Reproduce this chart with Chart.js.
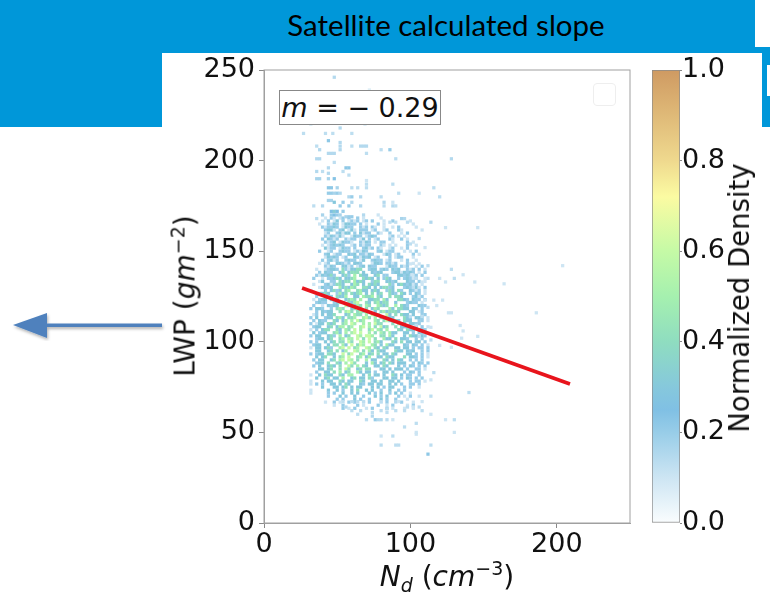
<!DOCTYPE html>
<html>
<head>
<meta charset="utf-8">
<title>Satellite calculated slope</title>
<script src="https://cdn.jsdelivr.net/npm/chart.js@4/dist/chart.umd.min.js"></script>
<style>
  body { margin: 0; width: 770px; height: 606px; overflow: hidden; background: #fff; position: relative; font-family: "DejaVu Sans", sans-serif; color: #111; }
  .blue { position: absolute; background: #0097d9; }
  canvas { position: absolute; left: 0; top: 0; }
  .label { position: absolute; font-size: 28px; white-space: nowrap; transform: translate(-50%, -50%); }
  .turned { transform: translate(-50%, -50%) rotate(-90deg); }
  .label sup, .label sub { font-size: 19px; line-height: 0; }
  #slopeBox { position: absolute; left: 279px; top: 90px; width: 160px; height: 33px; border: 1px solid #888; background: #fff; font-size: 27px; line-height: 33px; text-align: center; white-space: nowrap; }
  #emptyLegend { position: absolute; left: 593px; top: 83px; width: 21px; height: 21px; border: 1px solid #eee; border-radius: 4px; }
  #slideTitle { position: absolute; left: 446px; top: 24px; transform: translate(-50%, -50%); font: 29.5px Lato, sans-serif; color: #000; white-space: nowrap; }
  #arrow { position: absolute; left: 0; top: 300px; }
</style>
</head>
<body>
<div class="blue" style="left:0;top:0;width:755px;height:53px"></div>
<div class="blue" style="left:0;top:53px;width:162px;height:74px"></div>
<div class="blue" style="left:755px;top:47px;width:15px;height:6px"></div>
<div class="blue" style="left:762px;top:53px;width:8px;height:74px"></div>
<div style="position:absolute;left:767px;top:65px;width:3px;height:31px;background:#fff"></div>
<div id="slideTitle">Satellite calculated slope</div>

<canvas id="mainChart" width="770" height="606"></canvas>
<canvas id="barChart" width="770" height="606"></canvas>

<div id="slopeBox"><i>m</i> = − 0.29</div>
<div id="emptyLegend"></div>
<div class="label" style="left:447px;top:576px"><i>N<sub>d</sub></i> (<i>cm</i><sup>−3</sup>)</div>
<div class="label turned" style="left:185px;top:296px">LWP (<i>gm</i><sup>−2</sup>)</div>
<div class="label turned" style="left:739px;top:298px;font-size:27.5px">Normalized Density</div>

<svg id="arrow" width="170" height="50">
  <defs><filter id="soft"><feDropShadow dx="1" dy="2" stdDeviation="1.5" flood-opacity="0.3"/></filter></defs>
  <g filter="url(#soft)" fill="#4f81bd">
    <rect x="44" y="23.5" width="118" height="3.5"/>
    <polygon points="13,25 47,13 47,38"/>
  </g>
</svg>

<script>
const ndBins = [26,28,30,32,34,36,38,40,42,44,46,48,50,52,54,56,58,60,62,64,66,68,70,72,74,76,78,80,82,84,86,88,90,92,94,96,98,100,102,104,106,108,110,112];

const lwpBins = [168.3,166.7,165,163.3,161.7,160,158.3,156.7,155,153.3,151.7,150,148.3,146.7,145,143.3,141.7,140,138.3,136.7,135,133.3,131.7,130,128.3,126.7,125,123.3,121.7,120,118.3,116.7,115,113.3,111.7,110,108.3,106.7,105,103.3,101.7,100,98.3,96.7,95,93.3,91.7,90,88.3,86.7,85,83.3,81.7,80,78.3,76.7,75,73.3,71.7,70,68.3,66.7,65,63.3];

// one string per LWP bin, one character per Nd bin, digit = density in tenths
const densityRows = [
  "........1.21.12.2..2.1.....1................",
  ".......1.2.13.2.1212.12.2...1..2.....1......",
  "......1..2132.13322.2.1...2.1.........1.....",
  ".......212232.1322..212.21..1..1.2.....1....",
  "........2331.23.131.222.12..12...21......1..",
  "........12..23133.2.3122..21..2...1.2.......",
  "........2132131..1322.1232....12.1.1........",
  ".......2.3212..2122.13.2.12...21..2.1.......",
  "........2123.13221..2132.1.22..1....2.1.....",
  ".......1.123232..12.2122...21.1.1...2..1....",
  "........3122.1322.2..2312.21..12..1.2.......",
  "......2..12..2322.12132...23.122...1.1.2....",
  "........23.122..323.22132...132.12....2.1...",
  "........13232.12..321323.12...2.122...1.....",
  ".......2.2312..2322.13..2322.12...1.2..1....",
  "......1.12..33212.332...1332.2212...2.1.....",
  "........2132..3312.123.322...1322.212..1.2..",
  ".....1..12332.4213344..233.232.323..212.2.1.",
  "......2.322..34.3444.3..3233...23313232.1.2.",
  ".....2132342..342.5.433..34.22...3323212.2..",
  "....2..1.22343.3345..4343.3.243..2.23212..1.",
  "......13..22.4344.5343..244..3323...322.2.1.",
  "....1...2312443..354.3.4343...42.3432312.1..",
  "......13223..534354..443.3.34423...232.31.2.",
  "...1....2.3423.45..4533.343..243.42..3212.1.",
  "......2343..2534.4345.3.4.34..432.43.2.32.1.",
  ".....2..322.4335..33.5445.43..4.443...2312..",
  "....1.233.353..3454.5..3344.53...4432.322.2.",
  ".....2322..2354.4356..43.45344..3...2322.1..",
  "....2..1.3233..63.354.54..5434..5.432...322.",
  "...2.332..2.454..3465.4.354...53.4433.32.2..",
  ".....2.3233..4.564.4546..3.4534443...33.12..",
  "....12.3.334...34.544.5.654..63.4.433.3..22.",
  "...2.3..233.453.445..564.5.4.533...432.332.1",
  "....2.322..43.35.5.645...54.463.43.433..22.1",
  "...2.133.434..45.65..5.5.644...4.533.3322...",
  "....233..34.355.45..56.5.4.634..4.333..2.2.1",
  "...1.2.344..43.54.6.5..46.54.5...43.433.222.",
  "....3.233..453.5.56.6..5.4.54.533..33.2.32..",
  "...2.33..342.5.34..65.665..44.53...3.433.32.",
  ".....233.34..45.55.6.4.6.4..533.4.332..2.2..",
  "...2.2..3.34.44.64..65.6.453...43.4.33.33.2.",
  "....233..3.44.53.6.465..54.3.533...32.32.2.1",
  "...1.33.342..56.6.45..65.43.43..33.33.2.22.2",
  ".....33..34.4.35..65.4.53.433...433.323..2.2",
  "...2.233.443..6.46..45.34.4.33.43...33.2.2.1",
  ".....3.34..3.45.6..45.35..33.433...4.332.2.1",
  "....2.33..34.56.65.4..5.33..43.3.43..2.2.2..",
  ".....233.4..43.5.64...3.53.34.43.333..2.32.2",
  "....2.3..343.4..64.5.43..33.43...3.2.32.2.2.",
  "......33.34..4.64..34.44...33.3.333.2..22.1.",
  ".....2..33.4.5.34..53.33.2..33.3...2.32.2...",
  "...1..3.433..43.55...3.4.33.3..43.3.22..2...",
  ".....3..34.33.5..34.33.42...33.33.2.32.2.2..",
  "...1...3.33..43.33..43..33.3..33.3...2.22.1.",
  "...1.2.2..33.3.43...32.33.33..3.3.2..22.2...",
  ".......3...33.34.3.33...3.3.2.33...2.2..1...",
  "...1.....3..3.2..3.4..3.3..2..3..2.2........",
  "...1.....2.2..3..3.3...3.2.3..2.3.2..1......",
  ".........2...3.2..3..2...3.2.3...2.1.2..1...",
  "............2.2...3.2..2...3.2..2...1.......",
  "........1..2.1..2.2..1.2...1.2..1.2...1.....",
  "...........1..2....2.1....2..1.2....1.2.....",
  "..............2.1.2...1.2....2.1...1..1.....",
];

// isolated cells outside the main blob, Nd, LWP and density in the same order
const sparseNd = [48,72,27,32,42,47,52,52,60,69,44,36,38,52,52,52,60,66,68,70,80,86,70,36,38,44,46,48,90,128,48,36,40,44,44,58,56,54,58,36,38,44,48,70,70,88,44,46,50,60,64,70,44,46,48,50,52,92,106,116,120,80,58,60,66,44,46,48,54,60,82,88,34,40,52,58,66,82,88,90,46,48,50,54,78,40,46,48,50,52,56,58,60,68,94,96,36,86,90,114,124,98,146,106,100,110,100,106,112,128,136,101,104,108,112,120,124,130,144,102,110,116,122,112,118,126,128,108,100,134,136,104,114,114,135,146,106,120,128,140,116,114,124,130,130,114,104,104,104,96,112,114,90,92,80,80,88,70,76,78,80,84,88,56,60,66,64,74,74,84,84,80,90,96,98,102,106,108,54,60,64,68,80,90,92,114,108,164,186,204];
const sparseLwp = [246,239,215,220,215,215,218,221,215,220,211,208,206,210,208,206,208,208,208,208,206,206,204,201,201,204,204,204,201,201,199,194,194,196,193,196,196,194,192,190,190,190,190,189,187,187,185,185,185,185,185,185,182,182,182,182,182,182,182,185,180,180,180,180,180,178,178,177,177,177,177,177,175,175,175,175,175,175,175,175,172,172,172,172,170,170,170,170,170,170,169,169,169,170,168,168,168,166,166,166,163,166,163,157,154,152,143,143,142,140,137,137,135,133,135,135,133,135,133,130,123,123,123,119,120,116,116,114,114,109,106,109,108,101,102,103,103,98,97,72,83,79,57,57,50,60,55,50,49,53,38,43,43,43,43,48,48,57,57,57,57,57,57,64,62,62,60,61,59,63,61,62,62,62,64,64,64,62,67,67,67,67,67,67,67,70,67,132,116,142];
const sparseDensity = [0.15,0.06,0.13,0.06,0.13,0.13,0.15,0.1,0.13,0.06,0.22,0.13,0.15,0.15,0.15,0.15,0.13,0.15,0.15,0.15,0.13,0.2,0.13,0.15,0.15,0.15,0.15,0.15,0.13,0.15,0.13,0.15,0.13,0.15,0.15,0.22,0.22,0.13,0.13,0.17,0.17,0.17,0.24,0.1,0.13,0.13,0.22,0.22,0.17,0.13,0.13,0.13,0.2,0.2,0.17,0.2,0.15,0.13,0.1,0.13,0.13,0.13,0.15,0.2,0.15,0.17,0.17,0.3,0.2,0.15,0.15,0.1,0.13,0.15,0.2,0.2,0.15,0.13,0.15,0.13,0.25,0.32,0.25,0.2,0.1,0.17,0.2,0.25,0.2,0.17,0.17,0.2,0.2,0.15,0.17,0.15,0.13,0.13,0.13,0.15,0.1,0.13,0.1,0.13,0.13,0.1,0.1,0.1,0.13,0.13,0.1,0.1,0.13,0.1,0.13,0.1,0.1,0.13,0.1,0.13,0.1,0.1,0.1,0.13,0.1,0.1,0.1,0.13,0.13,0.1,0.1,0.13,0.1,0.13,0.1,0.1,0.13,0.1,0.1,0.13,0.13,0.1,0.1,0.13,0.1,0.1,0.13,0.1,0.1,0.13,0.22,0.13,0.13,0.13,0.13,0.1,0.13,0.13,0.2,0.15,0.15,0.13,0.1,0.15,0.13,0.13,0.13,0.13,0.15,0.13,0.13,0.13,0.13,0.13,0.13,0.1,0.13,0.13,0.13,0.13,0.13,0.13,0.13,0.15,0.1,0.13,0.1,0.1,0.1,0.1,0.1];

const fitNd = [26, 209];
const fitLwp = [129.7, 76.7];

const xTicks = [0, 100, 200];
const yTicks = [0, 50, 100, 150, 200, 250];
const barTicks = [0, 0.2, 0.4, 0.6, 0.8, 1];

// colormap stops
const barStops = [0, 0.1, 0.2, 0.25, 0.3, 0.4, 0.5, 0.6, 0.72, 0.8, 1];
const barColors = [
  [250,253,254], [205,229,243], [152,205,232], [128,192,228], [134,200,220],
  [143,221,192], [165,240,175], [197,250,166], [251,251,162], [239,217,142], [207,154,98],
];

function densityColor(d) {
  let i = 0;
  while (i < barStops.length - 2 && d > barStops[i + 1]) i++;
  const t = (d - barStops[i]) / (barStops[i + 1] - barStops[i]);
  const c = barColors[i].map((v, k) => Math.round(v + (barColors[i + 1][k] - v) * t));
  return `rgb(${c.join(",")})`;
}

const cells = [];
densityRows.forEach((row, r) => {
  [...row].forEach((ch, c) => {
    if (ch !== ".") cells.push({ x: ndBins[c], y: lwpBins[r], d: Number(ch) / 10 });
  });
});
sparseNd.forEach((nd, i) => {
  cells.push({ x: nd, y: sparseLwp[i], d: sparseDensity[i] });
});

const tickFont = { family: "'DejaVu Sans'", size: 27 };
const tickText = "#111";

const axesFrame = {
  id: "axesFrame",
  beforeDatasetsDraw(chart) {
    const { ctx, chartArea: a } = chart;
    ctx.save();
    ctx.strokeStyle = "#a0a0a0";
    ctx.lineWidth = 1;
    ctx.strokeRect(a.left, a.top, a.right - a.left, a.bottom - a.top);
    ctx.restore();
  },
};

new Chart(document.getElementById("mainChart"), {
  type: "scatter",
  data: {
    datasets: [
      {
        type: "line",
        data: fitNd.map((nd, i) => ({ x: nd, y: fitLwp[i] })),
        borderColor: "#e8141c",
        borderWidth: 3.8,
        pointRadius: 0,
        order: 0,
      },
      {
        data: cells,
        pointStyle: "rect",
        pointRadius: 2.3,
        borderWidth: 0,
        backgroundColor: ctx => densityColor(ctx.raw.d),
        order: 1,
      },
    ],
  },
  options: {
    responsive: false,
    animation: false,
    layout: { padding: { top: 70, right: 140 } },
    plugins: { legend: { display: false }, tooltip: { enabled: false } },
    scales: {
      x: {
        type: "linear",
        min: 0,
        max: 250,
        afterFit: s => { s.height = 83; },
        afterBuildTicks: s => { s.ticks = xTicks.map(v => ({ value: v })); },
        grid: { drawOnChartArea: false, tickLength: 5, color: "#888" },
        border: { color: "#a0a0a0" },
        ticks: { font: tickFont, color: tickText, padding: 1, maxRotation: 0 },
      },
      y: {
        min: 0,
        max: 250,
        afterFit: s => { s.width = 264; },
        afterBuildTicks: s => { s.ticks = yTicks.map(v => ({ value: v })); },
        grid: { drawOnChartArea: false, tickLength: 5, color: "#888" },
        border: { color: "#a0a0a0" },
        ticks: { font: tickFont, color: tickText, padding: 4 },
      },
    },
  },
  plugins: [axesFrame],
});

new Chart(document.getElementById("barChart"), {
  type: "bar",
  data: {
    labels: [""],
    datasets: [{
      data: [[0, 1]],
      barPercentage: 1,
      categoryPercentage: 1,
      borderWidth: 1,
      borderColor: "#8a8a8a",
      borderSkipped: false,
      backgroundColor: ctx => {
        const { chartArea: a, ctx: c } = ctx.chart;
        if (!a) return "#fff";
        const g = c.createLinearGradient(0, a.bottom, 0, a.top);
        barStops.forEach(s => g.addColorStop(s, densityColor(s)));
        return g;
      },
    }],
  },
  options: {
    responsive: false,
    animation: false,
    layout: { padding: { left: 652, top: 70, bottom: 83 } },
    plugins: { legend: { display: false }, tooltip: { enabled: false } },
    scales: {
      x: { display: false },
      y: {
        position: "right",
        min: 0,
        max: 1,
        afterFit: s => { s.width = 90; },
        afterBuildTicks: s => { s.ticks = barTicks.map(v => ({ value: v })); },
        grid: { drawOnChartArea: false, tickLength: 2, color: "#888" },
        border: { display: false },
        ticks: { font: tickFont, color: tickText, padding: 0, callback: v => v.toFixed(1) },
      },
    },
  },
});
</script>
</body>
</html>
